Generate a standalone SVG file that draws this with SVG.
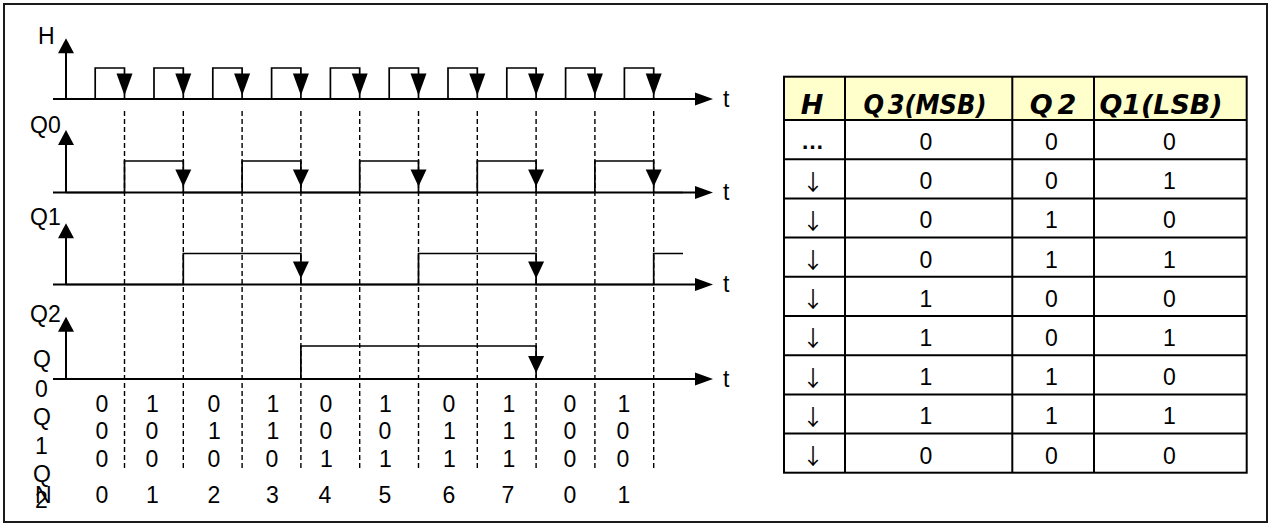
<svg xmlns="http://www.w3.org/2000/svg" width="1271" height="523" viewBox="0 0 1271 523">
<style>
 .lbl{font-family:"Liberation Sans",Arial,sans-serif;font-size:23px;fill:#000}
 .mid{text-anchor:middle}
 .axis{stroke:#000;stroke-width:2;fill:none}
 .sig{stroke:#000;stroke-width:1.7;fill:none;stroke-linejoin:miter}
 .dash{stroke:#000;stroke-width:1.4;stroke-dasharray:5 3;fill:none}
 .grid{stroke:#000;stroke-width:2;fill:none}
 .hdr{font-family:"DejaVu Sans",Verdana,sans-serif;font-size:27px;font-weight:bold;font-style:italic;text-anchor:middle;fill:#000}
 .cell{font-family:"Liberation Sans",Arial,sans-serif;font-size:23px;text-anchor:middle;fill:#000}
 .arr{font-family:"Noto Sans CJK SC","DejaVu Sans",sans-serif;font-size:22px;text-anchor:middle;fill:#000}
 .head{fill:#000}
</style>
<defs>
 <polygon id="up" class="head" points="0,0 -8,15 8,15"/>
 <polygon id="dn" class="head" points="-8,0 8,0 0,17"/>
 <polygon id="dnH" class="head" points="-8,0 8,0 0,22"/>
 <polygon id="rt" class="head" points="0,0 -18,-6.5 -18,6.5"/>
</defs>

<rect x="4" y="4" width="1263" height="518" fill="#fff" stroke="#1a1a1a" stroke-width="2"/>

<g id="panel-H">
 <text class="lbl" x="38" y="43.5">H</text>
 <line class="axis" x1="66" y1="99" x2="66" y2="48"/>
 <use href="#up" x="66" y="38.3"/>
 <line class="axis" x1="53" y1="99" x2="700" y2="99"/>
 <use href="#rt" x="713" y="99"/>
 <text class="lbl" x="723" y="107">t</text>
 <polyline class="sig" points="66,99 95.2,99 95.2,68 124.5,68 124.5,99 154,99 154,68 183.3,68 183.3,99 212.8,99 212.8,68 242.1,68 242.1,99 271.6,99 271.6,68 300.9,68 300.9,99 330.4,99 330.4,68 359.7,68 359.7,99 389.2,99 389.2,68 418.5,68 418.5,99 448,99 448,68 477.3,68 477.3,99 506.8,99 506.8,68 536.1,68 536.1,99 565.6,99 565.6,68 594.9,68 594.9,99 624.4,99 624.4,68 653.7,68 653.7,99 683,99"/>
 <use href="#dnH" x="124.5" y="73.5"/>
 <use href="#dnH" x="183.3" y="73.5"/>
 <use href="#dnH" x="242.1" y="73.5"/>
 <use href="#dnH" x="300.9" y="73.5"/>
 <use href="#dnH" x="359.7" y="73.5"/>
 <use href="#dnH" x="418.5" y="73.5"/>
 <use href="#dnH" x="477.3" y="73.5"/>
 <use href="#dnH" x="536.1" y="73.5"/>
 <use href="#dnH" x="594.9" y="73.5"/>
 <use href="#dnH" x="653.7" y="73.5"/>
</g>

<g id="panel-Q0">
 <text class="lbl" x="30" y="133">Q0</text>
 <line class="axis" x1="66" y1="192.5" x2="66" y2="140"/>
 <use href="#up" x="66" y="130"/>
 <line class="axis" x1="53" y1="192.5" x2="700" y2="192.5"/>
 <use href="#rt" x="713" y="192.5"/>
 <text class="lbl" x="723" y="200">t</text>
 <polyline class="sig" points="66,192.5 124.5,192.5 124.5,161 183.3,161 183.3,192.5 242.1,192.5 242.1,161 300.9,161 300.9,192.5 359.7,192.5 359.7,161 418.5,161 418.5,192.5 477.3,192.5 477.3,161 536.1,161 536.1,192.5 594.9,192.5 594.9,161 653.7,161 653.7,192.5 683,192.5"/>
 <use href="#dn" x="183.3" y="169.5"/>
 <use href="#dn" x="300.9" y="169.5"/>
 <use href="#dn" x="418.5" y="169.5"/>
 <use href="#dn" x="536.1" y="169.5"/>
 <use href="#dn" x="653.7" y="169.5"/>
</g>

<g id="panel-Q1">
 <text class="lbl" x="30" y="225">Q1</text>
 <line class="axis" x1="66" y1="284.5" x2="66" y2="233"/>
 <use href="#up" x="66" y="223.3"/>
 <line class="axis" x1="53" y1="284.5" x2="700" y2="284.5"/>
 <use href="#rt" x="713" y="284.5"/>
 <text class="lbl" x="723" y="292">t</text>
 <polyline class="sig" points="66,284.5 183.3,284.5 183.3,253.5 300.9,253.5 300.9,284.5 418.5,284.5 418.5,253.5 536.1,253.5 536.1,284.5 653.7,284.5 653.7,253.5 683,253.5"/>
 <use href="#dn" x="300.9" y="261.5"/>
 <use href="#dn" x="536.1" y="261.5"/>
</g>

<g id="panel-Q2">
 <text class="lbl" x="30" y="321.5">Q2</text>
 <line class="axis" x1="66" y1="379" x2="66" y2="326"/>
 <use href="#up" x="66" y="316.7"/>
 <line class="axis" x1="53" y1="379" x2="700" y2="379"/>
 <use href="#rt" x="713" y="379"/>
 <text class="lbl" x="723" y="386.5">t</text>
 <polyline class="sig" points="66,379 300.9,379 300.9,346 536.1,346 536.1,379 683,379"/>
 <use href="#dn" x="536.1" y="356"/>
</g>

<g id="connectors">
 <line class="dash" x1="124.5" y1="111" x2="124.5" y2="470"/>
 <line class="dash" x1="183.3" y1="111" x2="183.3" y2="470"/>
 <line class="dash" x1="242.1" y1="111" x2="242.1" y2="470"/>
 <line class="dash" x1="300.9" y1="111" x2="300.9" y2="470"/>
 <line class="dash" x1="359.7" y1="111" x2="359.7" y2="470"/>
 <line class="dash" x1="418.5" y1="111" x2="418.5" y2="470"/>
 <line class="dash" x1="477.3" y1="111" x2="477.3" y2="470"/>
 <line class="dash" x1="536.1" y1="111" x2="536.1" y2="470"/>
 <line class="dash" x1="594.9" y1="111" x2="594.9" y2="470"/>
 <line class="dash" x1="653.7" y1="111" x2="653.7" y2="470"/>
</g>

<g id="state-labels">
 <text class="lbl" x="33" y="366.5">Q</text>
 <text class="lbl" x="35" y="397">0</text>
 <text class="lbl" x="33" y="425">Q</text>
 <text class="lbl" x="35" y="454">1</text>
 <text class="lbl" x="33" y="481.5">Q</text>
 <text class="lbl" x="35" y="508">2</text>
 <text class="lbl" x="35" y="502.5">N</text>
</g>

<g id="state-values">
 <text class="lbl mid" y="411.5"><tspan x="102">0</tspan><tspan x="152.5">1</tspan><tspan x="214">0</tspan><tspan x="273">1</tspan><tspan x="326">0</tspan><tspan x="385.5">1</tspan><tspan x="449">0</tspan><tspan x="509">1</tspan><tspan x="570">0</tspan><tspan x="624">1</tspan></text>
 <text class="lbl mid" y="439"><tspan x="102">0</tspan><tspan x="152">0</tspan><tspan x="214.5">1</tspan><tspan x="273">1</tspan><tspan x="326">0</tspan><tspan x="385">0</tspan><tspan x="449.5">1</tspan><tspan x="509">1</tspan><tspan x="570">0</tspan><tspan x="623">0</tspan></text>
 <text class="lbl mid" y="467"><tspan x="102">0</tspan><tspan x="152">0</tspan><tspan x="214">0</tspan><tspan x="272">0</tspan><tspan x="326.5">1</tspan><tspan x="385.5">1</tspan><tspan x="449.5">1</tspan><tspan x="509">1</tspan><tspan x="570">0</tspan><tspan x="623">0</tspan></text>
 <text class="lbl mid" y="502.5"><tspan x="102">0</tspan><tspan x="152.5">1</tspan><tspan x="214">2</tspan><tspan x="272.5">3</tspan><tspan x="325">4</tspan><tspan x="385">5</tspan><tspan x="449">6</tspan><tspan x="508">7</tspan><tspan x="570">0</tspan><tspan x="624">1</tspan></text>
</g>

<g id="table">
 <rect x="784" y="76.7" width="462.7" height="43.3" fill="#FFFFCC"/>
 <rect class="grid" x="784" y="76.7" width="462.7" height="396"/>
 <line class="grid" x1="845" y1="76.7" x2="845" y2="472.7"/>
 <line class="grid" x1="1012.3" y1="76.7" x2="1012.3" y2="472.7"/>
 <line class="grid" x1="1094" y1="76.7" x2="1094" y2="472.7"/>
 <line class="grid" x1="784" y1="120" x2="1246.7" y2="120"/>
 <line class="grid" x1="784" y1="159.2" x2="1246.7" y2="159.2"/>
 <line class="grid" x1="784" y1="198.4" x2="1246.7" y2="198.4"/>
 <line class="grid" x1="784" y1="237.6" x2="1246.7" y2="237.6"/>
 <line class="grid" x1="784" y1="276.8" x2="1246.7" y2="276.8"/>
 <line class="grid" x1="784" y1="316" x2="1246.7" y2="316"/>
 <line class="grid" x1="784" y1="355.2" x2="1246.7" y2="355.2"/>
 <line class="grid" x1="784" y1="394.4" x2="1246.7" y2="394.4"/>
 <line class="grid" x1="784" y1="433.6" x2="1246.7" y2="433.6"/>
 <text class="hdr" x="812" y="114">H</text>
 <text class="hdr" x="925" y="114" textLength="123" lengthAdjust="spacingAndGlyphs">Q<tspan dx="4">3</tspan>(MSB)</text>
 <text class="hdr" x="1053" y="114">Q<tspan dx="5">2</tspan></text>
 <text class="hdr" x="1161" y="114" textLength="123" lengthAdjust="spacingAndGlyphs">Q1(LSB)</text>
 <text class="cell" x="812.5" y="149" font-weight="bold">…</text>
 <text class="arr" x="813" y="189.6">↓</text>
 <text class="arr" x="813" y="228.8">↓</text>
 <text class="arr" x="813" y="268">↓</text>
 <text class="arr" x="813" y="307.2">↓</text>
 <text class="arr" x="813" y="346.4">↓</text>
 <text class="arr" x="813" y="385.6">↓</text>
 <text class="arr" x="813" y="424.8">↓</text>
 <text class="arr" x="813" y="464">↓</text>
 <text class="cell" y="150"><tspan x="926">0</tspan><tspan x="1051.5">0</tspan><tspan x="1169.5">0</tspan></text>
 <text class="cell" y="189.2"><tspan x="926">0</tspan><tspan x="1051.5">0</tspan><tspan x="1169.5">1</tspan></text>
 <text class="cell" y="228.4"><tspan x="926">0</tspan><tspan x="1051.5">1</tspan><tspan x="1169.5">0</tspan></text>
 <text class="cell" y="267.6"><tspan x="926">0</tspan><tspan x="1051.5">1</tspan><tspan x="1169.5">1</tspan></text>
 <text class="cell" y="306.8"><tspan x="926">1</tspan><tspan x="1051.5">0</tspan><tspan x="1169.5">0</tspan></text>
 <text class="cell" y="346"><tspan x="926">1</tspan><tspan x="1051.5">0</tspan><tspan x="1169.5">1</tspan></text>
 <text class="cell" y="385.2"><tspan x="926">1</tspan><tspan x="1051.5">1</tspan><tspan x="1169.5">0</tspan></text>
 <text class="cell" y="424.4"><tspan x="926">1</tspan><tspan x="1051.5">1</tspan><tspan x="1169.5">1</tspan></text>
 <text class="cell" y="463.6"><tspan x="926">0</tspan><tspan x="1051.5">0</tspan><tspan x="1169.5">0</tspan></text>
</g>
</svg>
